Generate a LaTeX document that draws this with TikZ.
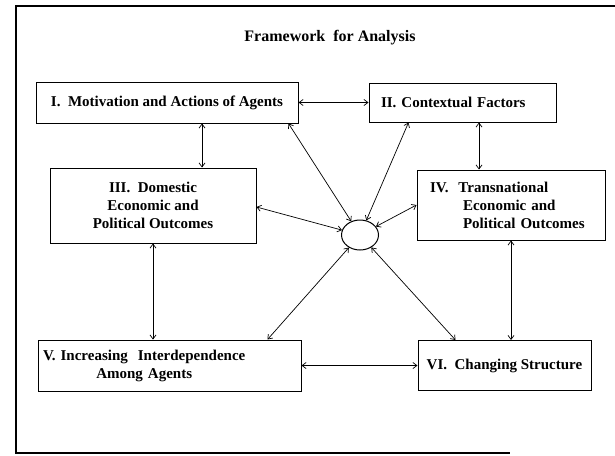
\documentclass[tikz,border=0pt]{standalone}
\usepackage{fontspec}
\setmainfont{Liberation Serif}
\usepackage{tikz}
\usetikzlibrary{arrows.meta,positioning,shapes.geometric}

\begin{document}
\begin{tikzpicture}[
    x=1pt, y=1pt,
    box/.style={rectangle, draw, line width=1pt, inner sep=0pt,
      font=\fontsize{15}{18}\selectfont\bfseries},
    hubnode/.style={ellipse, draw, line width=1pt, inner sep=0pt,
      minimum width=37pt, minimum height=30pt},
    link/.style={{Straight Barb[length=4pt,width=6pt]}-{Straight Barb[length=4pt,width=6pt]},
      line width=0.7pt},
    frame/.style={line width=2pt}
  ]
  \useasboundingbox (0,0) rectangle (615,-455);

  %% Outer frame, open on the right
  \draw[frame] (615,-6) -- (16,-6) -- (16,-453) -- (510,-453);

  %% Title
  \node[font=\fontsize{16}{19}\selectfont\bfseries] (title) at (330,-38)
    {Framework\ \ for Analysis};

  %% Boxes
  \node[box, minimum width=262pt, minimum height=41pt] (I) at (167,-102.5)
    {I.\ \ Motivation and Actions of Agents};
  \node[box, right=70pt of I, minimum width=187pt, minimum height=39pt,
    text width=163pt, align=left] (II) {II. Contextual Factors};
  \node[box, minimum width=206pt, minimum height=75pt, align=center] (III) at (153,-205.5)
    {III.\ \ Domestic\\Economic and\\Political Outcomes};
  \node[box, minimum width=188pt, minimum height=70pt,
    text width=162pt, align=left] (IV) at (511,-205)
    {IV.\ \ Transnational\\\hspace*{33pt}Economic and\\\hspace*{33pt}Political Outcomes};
  \node[box, minimum width=263pt, minimum height=51pt,
    text width=253pt, align=left] (V) at (169.5,-365.5)
    {\begin{tabular}{@{}c@{}}V.\ Increasing\ \ Interdependence\\Among Agents\end{tabular}};
  \node[box, right=116pt of V, minimum width=173pt, minimum height=50pt] (VI)
    {VI.\ \ Changing Structure};

  %% Hub in the middle
  \node[hubnode] (hub) at (360,-235) {};

  %% Links between boxes
  \draw[link] (I.east) -- (I.east -| II.west);
  \draw[link] ([xshift=35pt]I.south) -- ([xshift=35pt]I.south |- III.north);
  \draw[link] ([xshift=16.5pt]II.south) -- ([xshift=16.5pt]II.south |- IV.north);
  \draw[link] (III.south) -- (III.south |- V.north);
  \draw[link] (IV.south) -- (IV.south |- VI.north);
  \draw[link] (V.east) -- (V.east -| VI.west);

  %% Links to the hub
  \draw[link] ([xshift=-10pt]I.south east) -- (hub);
  \draw[link] ([xshift=40pt]II.south west) -- (hub);
  \draw[link] ([yshift=-1.5pt]III.east) -- (hub);
  \draw[link] (IV.west) -- (hub);
  \draw[link] ([xshift=-34pt]V.north east) -- (hub);
  \draw[link] ([xshift=38pt]VI.north west) -- (hub);

\end{tikzpicture}
\end{document}
